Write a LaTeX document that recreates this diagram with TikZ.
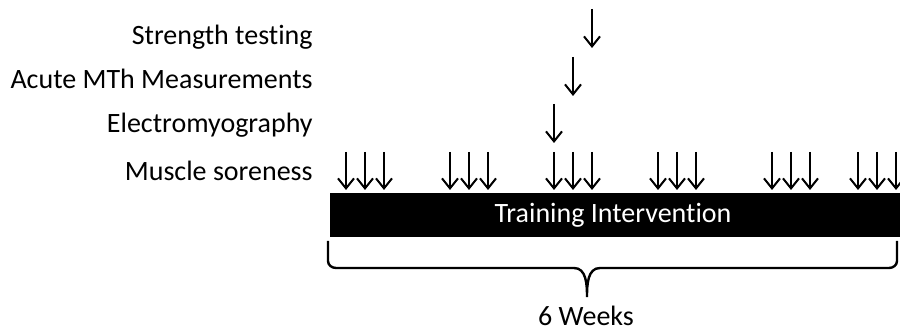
\documentclass[tikz,border=0pt]{standalone}
\usepackage{fontspec}
\setmainfont{Carlito}[Ligatures=NoCommon]
\usepackage{tikz}
\usetikzlibrary{arrows.meta}

\tikzset{
  lbl/.style={anchor=east, inner sep=0pt, font=\fontsize{14}{16}\selectfont},
  tick/.style={-{Straight Barb[length=5pt,width=8pt]}, line width=1pt},
}

\begin{document}
\begin{tikzpicture}[x=0.5pt, y=-0.5pt]
        \useasboundingbox (0,0) rectangle (900,330);

        % Draw the bar
        \fill[black] (330,193) rectangle (900,237);
        \node[inner sep=0pt, text=white, font=\fontsize{14}{16}\selectfont] (bar) at (613,215) {Training Intervention};

        % Labels
        \node[lbl] (strength) at (313,37) {Strength testing};
        \node[lbl] (acute) at (313,79) {Acute MTh Measurements};
        \node[lbl] (emg) at (313,125) {Electromyography};
        \node[lbl] (sore) at (313,171) {Muscle soreness};

        % Single arrows
        \coordinate (s1) at (592,9);   \coordinate (s2) at (592,48);
        \coordinate (a1) at (573,57);  \coordinate (a2) at (573,96);
        \coordinate (e1) at (554,104); \coordinate (e2) at (554,143);
        \draw[tick] (s1) -- (s2);
        \draw[tick] (a1) -- (a2);
        \draw[tick] (e1) -- (e2);

        % Muscle soreness arrows
        \foreach \g in {346,450,554,658,772,858}
          \foreach \k in {0,1,2} {
            \coordinate (m1) at (\g+19*\k,152);
            \coordinate (m2) at (\g+19*\k,190);
            \draw[tick] (m1) -- (m2);
          }

        % Brace
        \coordinate (bl) at (328,241);
        \coordinate (br) at (897,241);
        \coordinate (bm) at (587,297);
        \draw[line width=1.2pt] (bl) -- (328,261) to[out=-90,in=180] (336,268) -- (574,268)
          to[out=0,in=90] (bm) to[out=90,in=180] (600,268) -- (889,268) to[out=0,in=-90] (897,261) -- (br);
        \node[font=\fontsize{14}{16}\selectfont] (weeks) at (586,316) {6 Weeks};
\end{tikzpicture}
\end{document}
